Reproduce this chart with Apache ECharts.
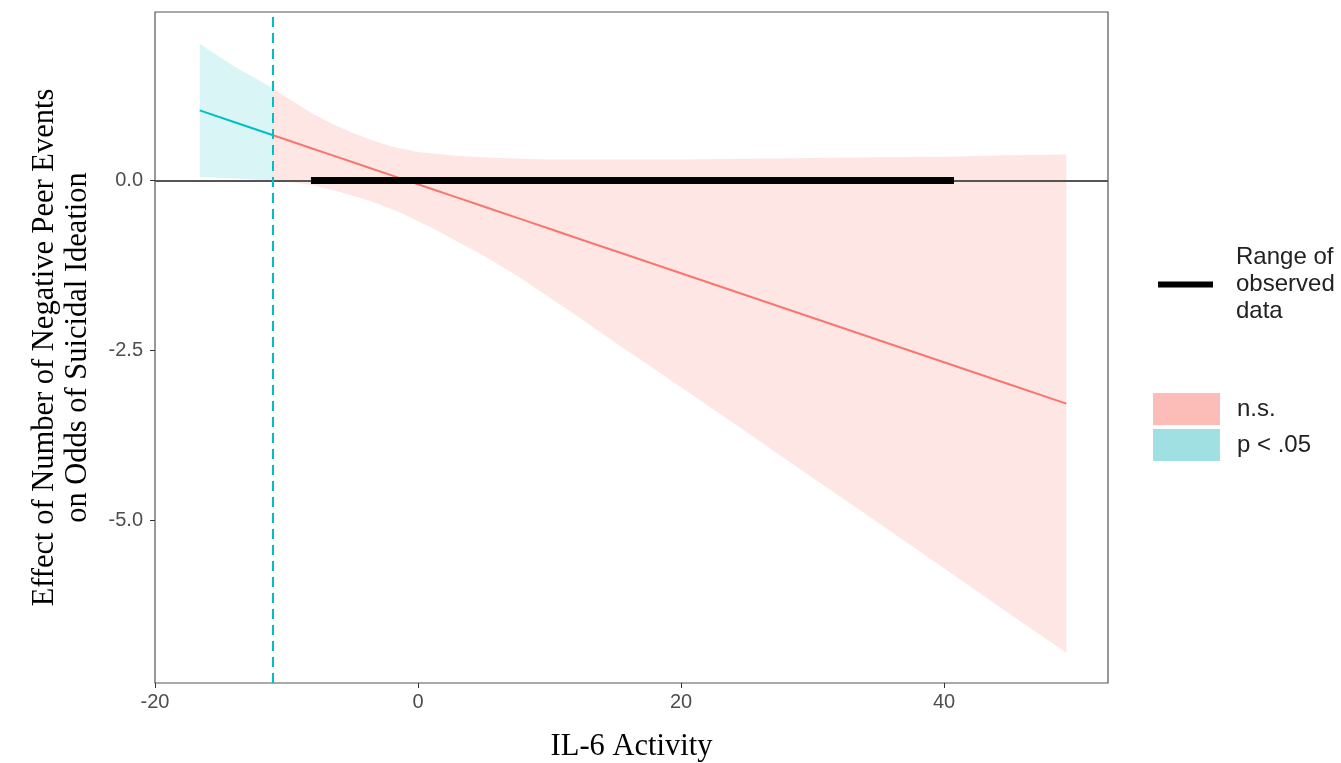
<!DOCTYPE html>
<html>
<head>
<meta charset="utf-8">
<title>Johnson-Neyman plot</title>
<script src="https://cdn.jsdelivr.net/npm/echarts@6/dist/echarts.min.js"></script>
<style>
  html, body { margin: 0; padding: 0; background: #fff; }
  #chart { width: 1341px; height: 763px; }
</style>
</head>
<body>
<div id="chart"></div>
<script>
var nsX = [-11.07, -9.5, -8, -6.5, -5, -3.5, -2, -1, 0, 1.5, 3, 4.5, 6, 8, 10, 12, 15, 20, 25, 30, 35, 40, 45, 49.3]
var nsEst = [0.668, 0.565, 0.467, 0.369, 0.271, 0.173, 0.075, 0.009, -0.056, -0.154, -0.252, -0.35, -0.448, -0.579, -0.71, -0.841, -1.037, -1.364, -1.691, -2.018, -2.345, -2.672, -2.999, -3.28]
var nsUpper = [1.36, 1.16, 0.98, 0.83, 0.70, 0.59, 0.50, 0.46, 0.42, 0.39, 0.36, 0.345, 0.33, 0.32, 0.31, 0.31, 0.31, 0.31, 0.32, 0.33, 0.34, 0.35, 0.37, 0.38]
var nsLower = [0.0, -0.03, -0.07, -0.14, -0.22, -0.31, -0.42, -0.50, -0.60, -0.74, -0.90, -1.05, -1.22, -1.46, -1.72, -1.98, -2.38, -3.04, -3.70, -4.37, -5.03, -5.70, -6.37, -6.94]

var sigX = [-16.6, -14, -11.07]
var sigEst = [1.03, 0.86, 0.668]
var sigUpper = [2.01, 1.68, 1.36]
var sigLower = [0.05, 0.03, 0.0]

var jnPoint = -11.07 // significance boundary
var observedRange = [-8.14, 40.76]

var xTicks = [-20, 0, 20, 40]
var yTicks = [-5, -2.5, 0]

var rangeName = 'Range of observed data'

function pairs (xs, ys) {
  return xs.map(function (x, i) { return [x, ys[i]] })
}
function triples (xs, lo, up) {
  return xs.map(function (x, i) { return [x, lo[i], up[i]] })
}

// whole confidence band as one polygon, drawn when the first item comes in
function bandRenderer (color, opacity) {
  return function (params, api) {
    if (params.dataIndex !== 0) return
    var n = params.dataInsideLength
    var top = []
    var bottom = []
    for (var i = 0; i < n; i++) {
      top.push(api.coord([api.value(0, i), api.value(2, i)]))
      bottom.unshift(api.coord([api.value(0, i), api.value(1, i)]))
    }
    return {
      type: 'polygon',
      shape: { points: top.concat(bottom) },
      style: { fill: color, opacity: opacity }
    }
  }
}

var chart = echarts.init(document.getElementById('chart'))

var tickFont = { fontFamily: 'Liberation Sans, Arial', fontSize: 20, color: '#4d4d4d' }

chart.setOption({
  animation: false,
  grid: {
    left: 155, right: 233, top: 12, bottom: 80,
    outerBoundsMode: 'none',
    show: true, borderColor: '#555', borderWidth: 1.2, backgroundColor: '#fff'
  },
  legend: [
    {
      orient: 'vertical',
      left: 1158, top: 244, padding: 0,
      icon: 'rect',
      itemWidth: 55, itemHeight: 6,
      data: [{ name: rangeName, itemStyle: { color: '#000' } }],
      formatter: function (n) { return n === rangeName ? 'Range of\nobserved\ndata' : n },
      textStyle: { fontFamily: 'Liberation Sans, Arial', fontSize: 24, lineHeight: 27, color: '#222', padding: [0, 0, 0, 18] },
      selectedMode: false
    },
    {
      orient: 'vertical',
      left: 1153, top: 393, padding: 0,
      icon: 'rect',
      itemWidth: 67, itemHeight: 32, itemGap: 4,
      data: [
        { name: 'n.s.', itemStyle: { color: '#fcbdb9' } },
        { name: 'p < .05', itemStyle: { color: '#a0e0e2' } }
      ],
      textStyle: { fontFamily: 'Liberation Sans, Arial', fontSize: 24, color: '#222', padding: [0, 0, 0, 12] },
      selectedMode: false
    }
  ],
  xAxis: {
    type: 'value',
    min: -20, max: 52.47,
    name: 'IL-6 Activity',
    nameLocation: 'middle',
    nameGap: 48,
    nameTextStyle: { fontFamily: 'Liberation Serif, Times New Roman', fontSize: 30.5, color: '#000' },
    axisLine: { show: false, onZero: false },
    axisTick: { show: true, inside: false, length: 5, lineStyle: { color: '#333' }, customValues: xTicks },
    axisLabel: Object.assign({ margin: 9, customValues: xTicks }, tickFont),
    splitLine: { show: false }
  },
  yAxis: {
    type: 'value',
    min: -7.385, max: 2.476,
    name: 'Effect of Number of Negative Peer Events\non Odds of Suicidal Ideation',
    nameLocation: 'middle',
    nameGap: 61,
    nameTextStyle: { fontFamily: 'Liberation Serif, Times New Roman', fontSize: 30.5, lineHeight: 33, color: '#000' },
    axisLine: { show: false, onZero: false },
    axisTick: { show: true, inside: false, length: 5, lineStyle: { color: '#333' }, customValues: yTicks },
    axisLabel: Object.assign({
      margin: 12,
      customValues: yTicks,
      formatter: function (v) { return v.toFixed(1) }
    }, tickFont),
    splitLine: { show: false }
  },
  series: [
    {
      name: 'n.s.', type: 'custom', silent: true, z: 1,
      data: triples(nsX, nsLower, nsUpper),
      encode: { x: 0, y: [1, 2] },
      renderItem: bandRenderer('#f8766d', 0.18)
    },
    {
      name: 'p < .05', type: 'custom', silent: true, z: 1,
      data: triples(sigX, sigLower, sigUpper),
      encode: { x: 0, y: [1, 2] },
      renderItem: bandRenderer('#00bfc4', 0.15)
    },
    {
      name: 'nsSlope', type: 'line', data: pairs(nsX, nsEst), symbol: 'none',
      lineStyle: { color: '#f8766d', width: 2 }, z: 3,
      markLine: {
        silent: true, symbol: 'none', label: { show: false },
        lineStyle: { color: '#555', width: 2, type: 'solid' },
        data: [{ yAxis: 0 }]
      }
    },
    {
      name: 'sigSlope', type: 'line', data: pairs(sigX, sigEst), symbol: 'none',
      lineStyle: { color: '#00bfc4', width: 2 }, z: 3,
      markLine: {
        silent: true, symbol: 'none', label: { show: false },
        lineStyle: { color: '#00bfc4', width: 2, type: [10, 6] },
        data: [{ xAxis: jnPoint }]
      }
    },
    {
      name: rangeName, type: 'line', symbol: 'none', z: 5,
      data: [[observedRange[0], 0], [observedRange[1], 0]],
      lineStyle: { color: '#000', width: 7, cap: 'butt' }
    }
  ]
})
</script>
</body>
</html>
